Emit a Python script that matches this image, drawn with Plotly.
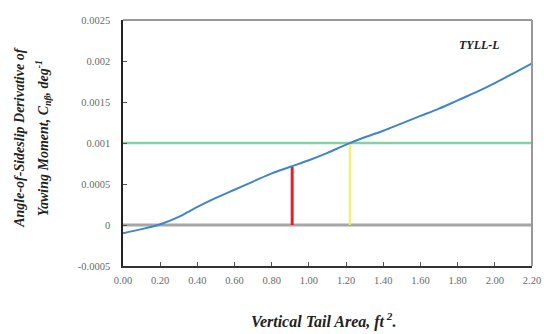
import plotly.graph_objects as go

area = [0.0, 0.1, 0.2, 0.3, 0.4, 0.5, 0.6, 0.7, 0.8, 0.9, 1.0, 1.1,
        1.2, 1.3, 1.4, 1.5, 1.6, 1.7, 1.8, 1.9, 2.0, 2.1, 2.2]
cnb = [-0.00010, -0.00005, 0.00001, 0.00010, 0.00022, 0.00033, 0.00043,
       0.00053, 0.00063, 0.00071, 0.00079, 0.00088, 0.00098, 0.00107,
       0.00115, 0.00124, 0.00133, 0.00142, 0.00152, 0.00162, 0.00173,
       0.00185, 0.00197]
target_level = 0.001
red_x, red_y = 0.91, 0.00071
yellow_x, yellow_y = 1.22, 0.001
xticks = [0.0, 0.2, 0.4, 0.6, 0.8, 1.0, 1.2, 1.4, 1.6, 1.8, 2.0, 2.2]
xtick_labels = ["0.00", "0.20", "0.40", "0.60", "0.80", "1.00", "1.20",
                "1.40", "1.60", "1.80", "2.00", "2.20"]
yticks = [-0.0005, 0, 0.0005, 0.001, 0.0015, 0.002, 0.0025]
ytick_labels = ["-0.0005", "0", "0.0005", "0.001", "0.0015", "0.002", "0.0025"]

serif = "Liberation Serif, Times New Roman, serif"

fig = go.Figure()
fig.add_trace(go.Scatter(x=[0, 2.2], y=[0, 0], mode="lines",
                         line=dict(color="#a6a6a6", width=3), hoverinfo="skip"))
fig.add_trace(go.Scatter(x=[0, 2.2], y=[target_level, target_level], mode="lines",
                         line=dict(color="#86d0a2", width=2.5), hoverinfo="skip"))
fig.add_trace(go.Scatter(x=[red_x, red_x], y=[0, red_y], mode="lines",
                         line=dict(color="#e3202c", width=3), hoverinfo="skip"))
fig.add_trace(go.Scatter(x=[yellow_x, yellow_x], y=[0, yellow_y], mode="lines",
                         line=dict(color="#f2f25a", width=2), hoverinfo="skip"))
fig.add_trace(go.Scatter(x=area, y=cnb, mode="lines",
                         line=dict(color="#3f86c6", width=2), line_shape="spline"))

fig.update_xaxes(range=[0, 2.2], tickvals=xticks, ticktext=xtick_labels,
                 ticks="inside", ticklen=4, tickcolor="#555",
                 showline=True, linecolor="#333", linewidth=1.5,
                 showgrid=False, zeroline=False, ticklabelstandoff=4,
                 tickfont=dict(family=serif, size=10.5, color="#6a6a6a"))
fig.update_yaxes(range=[-0.0005, 0.0025], tickvals=yticks, ticktext=ytick_labels,
                 ticks="inside", ticklen=4, tickcolor="#555",
                 showline=True, linecolor="#222", linewidth=1.5,
                 showgrid=False, zeroline=False, ticklabelstandoff=9,
                 tickfont=dict(family=serif, size=10.5, color="#6a6a6a"))

# top and right border in gray
fig.add_shape(type="line", xref="paper", yref="paper", x0=0, x1=1, y0=1, y1=1,
              line=dict(color="#999", width=2))
fig.add_shape(type="line", xref="paper", yref="paper", x0=1, x1=1, y0=0, y1=1,
              line=dict(color="#999", width=2))

fig.add_annotation(text="<b><i>TYLL-L</i></b>", xref="paper", yref="paper",
                   x=0.926, y=0.898, xanchor="right", yanchor="middle", showarrow=False,
                   font=dict(family=serif, size=12, color="#222"))
fig.add_annotation(text="<b><i>Vertical Tail Area, ft<sup> 2</sup>.</i></b>",
                   xref="paper", yref="paper", x=0.49, y=-0.17,
                   xanchor="center", yanchor="top", showarrow=False,
                   font=dict(family=serif, size=16, color="#222"))
fig.add_annotation(text="<b><i>Angle-of-Sideslip Derivative of</i></b>",
                   xref="paper", yref="paper", x=-0.255, y=0.52,
                   xanchor="center", yanchor="middle", textangle=-90, showarrow=False,
                   font=dict(family=serif, size=14, color="#222"))
fig.add_annotation(text="<b><i>Yawing Moment, C<sub>nβ</sub>, deg<sup>-1</sup></i></b>",
                   xref="paper", yref="paper", x=-0.195, y=0.52,
                   xanchor="center", yanchor="middle", textangle=-90, showarrow=False,
                   font=dict(family=serif, size=14, color="#222"))

fig.update_layout(width=552, height=334, margin=dict(l=123, r=11, t=20, b=68),
                  plot_bgcolor="white", paper_bgcolor="white", showlegend=False)
fig.write_html("out.html")
